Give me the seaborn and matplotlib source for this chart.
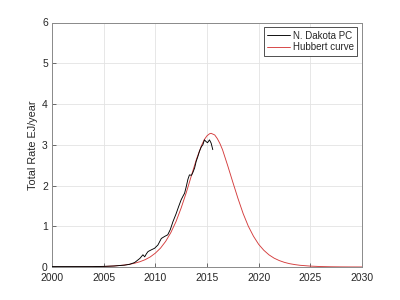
import matplotlib
matplotlib.use("Agg")
import matplotlib.pyplot as plt
import seaborn as sns
import numpy as np

# N. Dakota production data (EJ/year)
nd_years = [2000, 2001, 2002, 2003, 2004, 2005, 2006, 2007, 2007.5, 2008.0, 2008.25, 2008.5,
            2008.8, 2008.97, 2009.15, 2009.3, 2009.6, 2009.93, 2010.25, 2010.58, 2010.9, 2011.2,
            2011.45, 2011.7, 2012.0, 2012.25, 2012.5, 2012.7, 2012.83, 2013.0, 2013.15, 2013.3,
            2013.5, 2013.65, 2013.8, 2013.95, 2014.1, 2014.27, 2014.45, 2014.6, 2014.75, 2014.9,
            2015.05, 2015.24, 2015.4, 2015.56]
nd_rate = [0.01, 0.01, 0.01, 0.01, 0.01, 0.015, 0.025, 0.045, 0.065, 0.11, 0.16, 0.21,
           0.30, 0.25, 0.33, 0.38, 0.42, 0.46, 0.54, 0.70, 0.75, 0.79,
           0.92, 1.11, 1.30, 1.48, 1.65, 1.75, 1.81, 1.98, 2.15, 2.26,
           2.25, 2.33, 2.43, 2.59, 2.70, 2.84, 2.95, 3.00, 3.12, 3.08,
           3.05, 3.12, 3.04, 2.88]

# Hubbert curve values
hub_years = [2000, 2001, 2002, 2003, 2004, 2005, 2006, 2007, 2007.5, 2008, 2008.5, 2009,
             2009.5, 2010, 2010.5, 2011, 2011.5, 2012, 2012.5, 2013, 2013.5, 2014, 2014.5,
             2014.75, 2015, 2015.25, 2015.4, 2015.75, 2016, 2016.25, 2016.5, 2017, 2017.5,
             2018, 2018.5, 2019, 2019.5, 2020, 2020.5, 2021, 2021.5, 2022, 2022.5, 2023,
             2023.5, 2024, 2025, 2026, 2027, 2028, 2029, 2030]
hub_rate = [0.0005, 0.0009, 0.0017, 0.0034, 0.0066, 0.0127, 0.025, 0.048, 0.067, 0.093, 0.129, 0.178,
            0.246, 0.34, 0.463, 0.629, 0.844, 1.114, 1.45, 1.83, 2.25, 2.66, 3.00,
            3.13, 3.22, 3.27, 3.28, 3.24, 3.15, 3.03, 2.88, 2.49, 2.08,
            1.68, 1.31, 1.00, 0.754, 0.556, 0.41, 0.298, 0.216, 0.157, 0.113, 0.081,
            0.059, 0.042, 0.0218, 0.0111, 0.0057, 0.0029, 0.0015, 0.0008]

x_ticks = [2000, 2005, 2010, 2015, 2020, 2025, 2030]
y_ticks = [0, 1, 2, 3, 4, 5, 6]

sns.set_style("white")
plt.rcParams['font.family'] = ['Liberation Sans', 'DejaVu Sans']

fig = plt.figure(figsize=(4, 3), dpi=100)
ax = fig.add_axes([0.13, 0.11, 0.775, 0.815])

sns.lineplot(x=hub_years, y=hub_rate, ax=ax, color='#d43c3c', linewidth=0.65,
             label='Hubbert curve', estimator=None, sort=False, zorder=2)
sns.lineplot(x=nd_years, y=nd_rate, ax=ax, color='black', linewidth=0.65,
             label='N. Dakota PC', estimator=None, sort=False, zorder=3)

ax.set_xlim(2000, 2030)
ax.set_ylim(0, 6)
ax.set_xticks(x_ticks)
ax.set_yticks(y_ticks)
ax.set_xticklabels([str(t) for t in x_ticks])
ax.set_yticklabels([str(t) for t in y_ticks])
ax.grid(True, color='#e3e3e3', linewidth=0.6)
ax.set_axisbelow(True)
for s in ax.spines.values():
    s.set_color('#8a8a8a')
    s.set_linewidth(0.7)
ax.tick_params(direction='in', length=3, width=0.6, color='#555555',
               labelsize=7.5, labelcolor='#262626', bottom=True, left=True)
ax.tick_params(axis='x', pad=4)
ax.tick_params(axis='y', pad=3)
ax.set_ylabel('Total Rate EJ/year', fontsize=7.8, color='#262626', labelpad=3)
ax.set_xlabel('')

handles, labels = ax.get_legend_handles_labels()
order = [labels.index('N. Dakota PC'), labels.index('Hubbert curve')]
leg = ax.legend([handles[i] for i in order], [labels[i] for i in order],
                loc='upper right', fontsize=7, frameon=True, fancybox=False,
                borderpad=0.35, handlelength=2.4, handletextpad=0.25,
                labelspacing=0.15, borderaxespad=0.5)
leg.get_frame().set_edgecolor('#333333')
leg.get_frame().set_linewidth(0.6)
leg.get_frame().set_alpha(1)

fig.savefig('out.png', dpi=100)
